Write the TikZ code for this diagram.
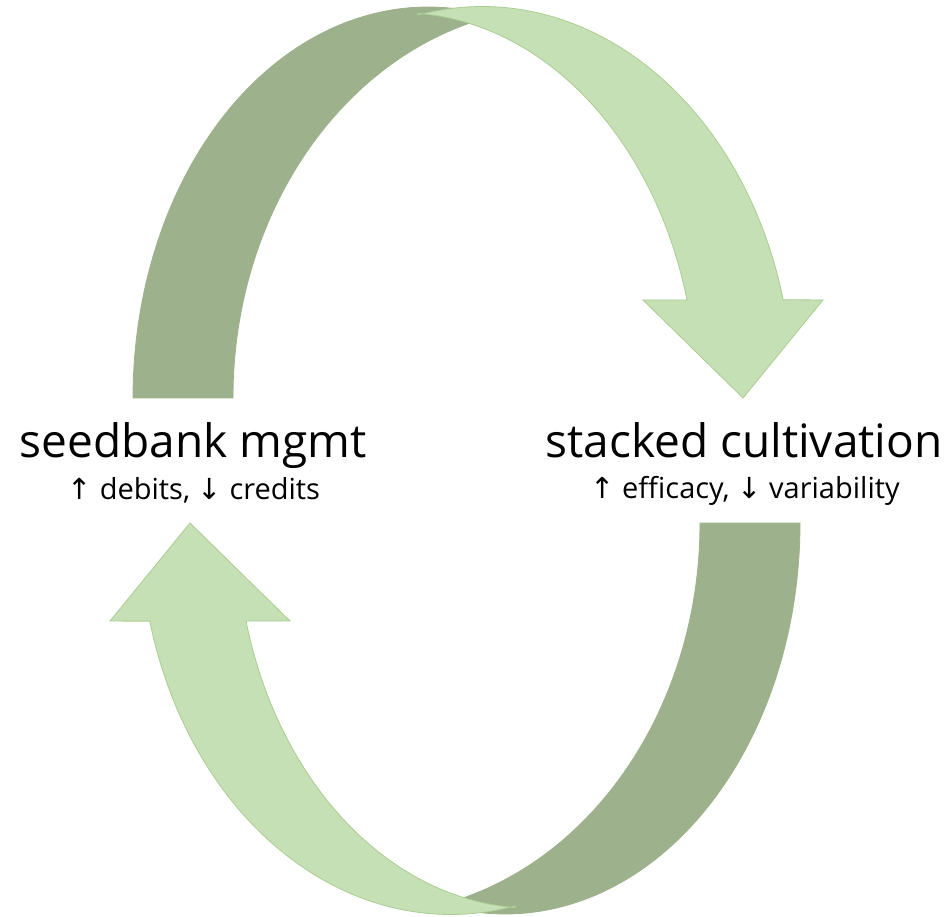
\documentclass[tikz,border=0pt]{standalone}
\usepackage{fontspec}
\setmainfont{Open Sans}
\newfontfamily\arrowfont{DejaVu Sans}
\definecolor{leaflight}{HTML}{C5E0B4}
\definecolor{leafdark}{HTML}{9DB28C}
\definecolor{leafline}{HTML}{ABCD93}
\newcommand{\upar}{{\arrowfont ↑}}
\newcommand{\downar}{{\arrowfont ↓}}

\tikzset{
    frontface/.style={fill=leaflight, draw=leafline, line width=0.8pt},
    backface/.style={fill=leafdark, draw=leafdark, line width=0.8pt},
    title/.style={font=\fontsize{46}{50}\selectfont, inner sep=0pt, anchor=base},
    subtitle/.style={font=\fontsize{29}{32}\selectfont, inner sep=0pt, anchor=base}
}

\begin{document}
\begin{tikzpicture}[x=1pt,y=1pt]
    \useasboundingbox (0,0) rectangle (952,916);

    % Draw the two curved arrows (the lower one is the upper one turned round)
    \foreach \turn in {0,180} {
        \begin{scope}[rotate around={\turn:(466.5,455.5)}]
            % back side of the band (dark)
            \filldraw[backface] (133,518)
                arc[start angle=180, end angle=81.8, x radius=295, y radius=391]
                -- (470,893)
                arc[start angle=106.5, end angle=180, x radius=331, y radius=391] -- cycle;
            % front side of the band with the arrow head (light)
            \filldraw[frontface] (418,901)
                arc[start angle=101.9, end angle=14.5, x radius=311, y radius=391]
                -- (823,616) -- (743,518) -- (643,616) -- (687,616)
                arc[start angle=14.7, end angle=86.5, x radius=297, y radius=385] -- cycle;
        \end{scope}
    }

    % Add the labels
    \node[title] (seedbank) at (193,458) {seedbank mgmt};
    \node[subtitle] (seedbanknote) at (194,416) {\upar{} debits, \downar{} credits};
    \node[title] (stacked) at (744,458) {stacked cultivation};
    \node[subtitle] (stackednote) at (745,417) {\upar{} efficacy, \downar{} variability};

\end{tikzpicture}
\end{document}
